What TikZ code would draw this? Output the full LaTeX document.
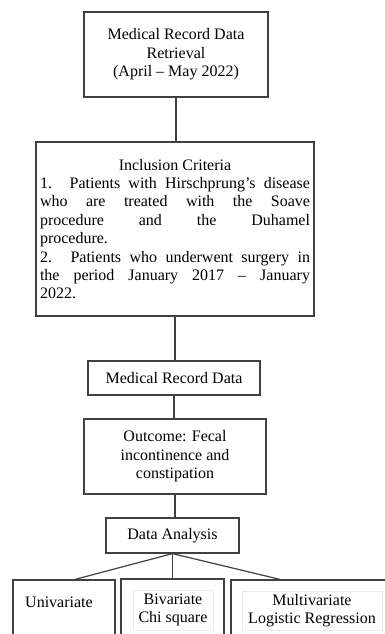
\documentclass[tikz,border=0pt]{standalone}
\usepackage{fontspec}
\setmainfont{Liberation Serif}
\newcommand{\diagfont}{\fontsize{16}{18.4}\selectfont}
\begin{document}
\begin{tikzpicture}[x=1pt,y=-1pt,
  box/.style={draw=black!75, line width=1.2pt, inner sep=0pt, align=center, font=\diagfont},
  conn/.style={draw=black!75, line width=1.2pt},
  lbl/.style={inner sep=0pt, align=center, font=\diagfont},
  faint/.style={draw=black!8, line width=0.6pt}]
\useasboundingbox (0,0) rectangle (384,634);

\node[box, minimum width=184pt, minimum height=85pt] (ret) at (176,54.5)
  {Medical Record Data\\Retrieval\\(April – May 2022)};
\node[box, minimum width=278pt, minimum height=174pt] (inc) at (175,229)
  {\parbox{270pt}{\spaceskip=4pt plus 1fil
   \hbox to\hsize{\hfill Inclusion Criteria\hfill}
   \hbox to\hsize{1. Patients with Hirschprung’s disease}
   \hbox to\hsize{who are treated with the Soave}
   \hbox to\hsize{procedure and the Duhamel}
   \hbox to\hsize{procedure.\hfill}
   \hbox to\hsize{2. Patients who underwent surgery in}
   \hbox to\hsize{the period January 2017 – January}
   \hbox to\hsize{2022.\hfill}}};
\node[box, minimum width=172pt, minimum height=34pt] (mrd) at (174,378) {Medical Record Data};
\node[box, minimum width=182pt, minimum height=75pt] (out) at (175,456.5)
  {Outcome: Fecal\\incontinence and\\constipation};
\node[box, minimum width=133pt, minimum height=35pt] (da) at (172.5,535.5) {Data Analysis};
\node[box, minimum width=102pt, minimum height=60pt] (uni) at (64,610) {};
\node[box, minimum width=103pt, minimum height=61pt] (biv) at (172.5,609.5) {};
\node[box, minimum width=157pt, minimum height=60pt] (mul) at (309.5,610) {};
\node[lbl, anchor=west] (unit) at (25,602) {Univariate};
\node[lbl, faint, minimum width=80pt, minimum height=40pt] (bivt) at (173,610) {Bivariate\\Chi square};
\node[lbl, faint, minimum width=140pt, minimum height=39pt] (mult) at (312,610.5) {Multivariate\\Logistic Regression};

\draw[conn] (ret.south) -- (ret.south |- inc.north);
\draw[conn] (inc.south) -- (inc.south |- mrd.north);
\draw[conn] (mrd.south) -- (mrd.south |- out.north);
\draw[conn] (out.south) -- (out.south |- da.north);
\draw[conn] (da.south) -- ([xshift=11pt]uni.north);
\draw[conn] (da.south) -- (da.south |- biv.north);
\draw[conn] (da.south) -- ([xshift=-29.5pt]mul.north);
\end{tikzpicture}
\end{document}
